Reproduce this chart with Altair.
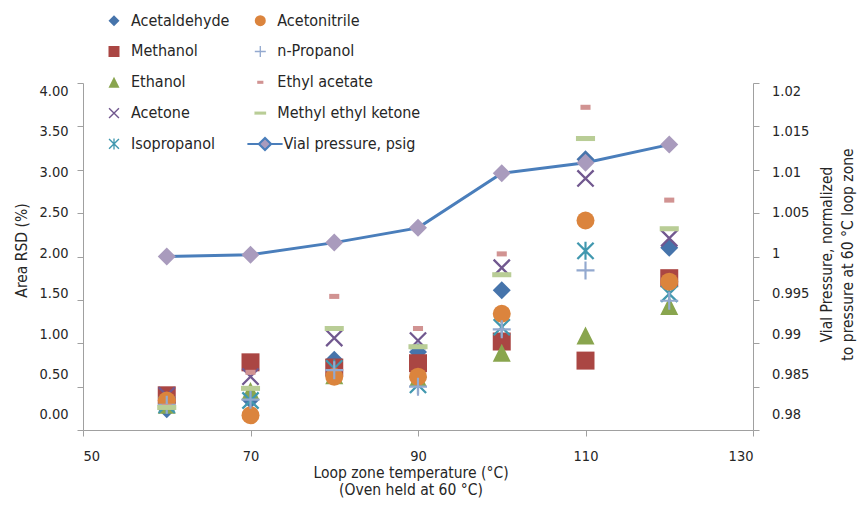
import altair as alt
import pandas as pd

# ---------------- data ----------------
temps = [60, 70, 80, 90, 100, 110, 120]

acetaldehyde = [0.24, 0.35, 0.81, 0.90, 1.61, 3.12, 2.10]
methanol = [0.40, 0.78, 0.72, 0.77, 1.02, 0.80, 1.75]
ethanol = [0.29, 0.45, 0.63, 0.60, 0.89, 1.09, 1.43]
acetone = [0.40, 0.615, 1.06, 1.03, 1.87, 2.90, 2.21]
isopropanol = [0.29, 0.34, 0.71, 0.52, 1.185, 2.065, 1.57]
acetonitrile = [0.34, 0.17, 0.615, 0.615, 1.34, 2.415, 1.71]
n_propanol = [0.29, 0.35, 0.69, 0.50, 1.16, 1.84, 1.49]
ethyl_acetate = [0.27, 0.665, 1.54, 1.17, 2.03, 3.72, 2.65]
methyl_ethyl_ketone = [0.26, 0.48, 1.17, 0.96, 1.79, 3.36, 2.32]

vial_pressure = [1.0000, 1.0002, 1.0016, 1.0033, 1.0096, 1.0108, 1.0129]

x_ticks = [50, 70, 90, 110, 130]
rsd_ticks = [0, 0.5, 1.0, 1.5, 2.0, 2.5, 3.0, 3.5, 4.0]
pressure_ticks = [0.98, 0.985, 0.99, 0.995, 1.0, 1.005, 1.01, 1.015, 1.02]

# drawing order of the series (later on top); also the legend order (column-major)
series_names = ["Acetaldehyde", "Methanol", "Ethanol", "Acetone", "Isopropanol",
                "Acetonitrile", "n-Propanol", "Ethyl acetate", "Methyl ethyl ketone"]
series_values = [acetaldehyde, methanol, ethanol, acetone, isopropanol,
                 acetonitrile, n_propanol, ethyl_acetate, methyl_ethyl_ketone]

# ---------------- styles ----------------
TRI = "M0,-1L1,1L-1,1Z"
PLUS = "M-1,-0.12H1V0.12H-1Z M-0.12,-1H0.12V1H-0.12Z"
XS = ("M-0.99,-0.81L0.81,0.99L0.99,0.81L-0.81,-0.99Z "
      "M-0.99,0.81L-0.81,0.99L0.99,-0.81L0.81,-0.99Z")
ASTER = XS + " M-0.12,-1L-0.12,1L0.12,1L0.12,-1Z"
EA_DASH = "M-0.56,-0.28H0.56V0.28H-0.56Z"
MEK_DASH = "M-1.06,-0.28H1.06V0.28H-1.06Z"
VIAL = "M-3.2,0H-1.1M1.1,0H3.2M0,-1.1L1.1,0L0,1.1L-1.1,0Z"

style = {
    "Acetaldehyde": ("#4674ab", "diamond"),
    "Acetonitrile": ("#db843d", "circle"),
    "Methanol": ("#aa4643", "square"),
    "n-Propanol": ("#93a9cf", PLUS),
    "Ethanol": ("#89a54e", TRI),
    "Ethyl acetate": ("#d19392", EA_DASH),
    "Acetone": ("#71588f", XS),
    "Methyl ethyl ketone": ("#b9cd96", MEK_DASH),
    "Isopropanol": ("#4198af", ASTER),
}
colors = [style[s][0] for s in series_names]
shapes = [style[s][1] for s in series_names]

F = "DejaVu Sans Condensed, Liberation Sans Narrow, DejaVu Sans, sans-serif"
TXT = "#262626"
AX = "#a0a0a0"

rows = []
for name, vals in zip(series_names, series_values):
    for t, v in zip(temps, vals):
        rows.append({"temp": t, "rsd": v, "series": name})
df = pd.DataFrame(rows)

pdf = pd.DataFrame({"temp": temps, "p": vial_pressure,
                    "name": ["Vial pressure, psig"] * len(temps)})
lab_left = pd.DataFrame({"v": rsd_ticks})
lab_right = pd.DataFrame({"pv": pressure_ticks})

x_axis = alt.Axis(values=x_ticks, format="d", tickSize=6, tickColor=AX,
                  domainColor=AX, grid=False, labelPadding=13, labelFont=F,
                  labelFontSize=14.5, labelColor=TXT,
                  title=["Loop zone temperature (°C)", "(Oven held at 60 °C)"],
                  titleFont=F, titleFontSize=15.5, titleFontWeight="normal",
                  titleColor=TXT, titleX=327.5, titleY=47, titleAlign="center",
                  titleBaseline="alphabetic", titleLineHeight=17)
X = alt.X("temp:Q", scale=alt.Scale(domain=[50, 130], nice=False, zero=False),
          axis=x_axis)

leg = dict(orient="none", legendX=23, legendY=-70.3, columns=2,
           title=None, symbolSize=121, symbolStrokeWidth=0, labelFont=F,
           labelFontSize=16, labelColor=TXT, labelOffset=9, rowPadding=14.8,
           columnPadding=22.3, padding=0, labelLimit=400)

# helper layers carrying the axis labels
left_labels = alt.Chart(lab_left).mark_point(opacity=0).encode(
    y=alt.Y("v:Q", scale=alt.Scale(domain=[-0.1856, 4.104], nice=False, zero=False),
            axis=alt.Axis(orient="left", values=rsd_ticks, format=".2f",
                          ticks=False, domain=False, grid=False, labelPadding=15,
                          labelFont=F, labelFontSize=14.5, labelColor=TXT,
                          title="Area RSD (%)", titleFont=F, titleFontSize=15.5,
                          titleFontWeight="normal", titleColor=TXT,
                          titleX=-61.5, titleY=167, titleAngle=270,
                          titleAlign="center", titleBaseline="middle"))
)

right_labels = alt.Chart(lab_right).mark_point(opacity=0).encode(
    y=alt.Y("pv:Q", scale=alt.Scale(domain=[0.978144, 1.02104], nice=False, zero=False),
            axis=alt.Axis(orient="right", values=pressure_ticks, format="~g",
                          ticks=False, domain=False, grid=False, labelPadding=18.5,
                          labelFont=F, labelFontSize=14.5, labelColor=TXT,
                          title=["Vial Pressure, normalized",
                                 "to pressure at 60 °C loop zone"],
                          titleFont=F, titleFontSize=15.5, titleFontWeight="normal",
                          titleColor=TXT, titleX=73.5, titleY=171, titleAngle=270,
                          titleAlign="center", titleBaseline="middle",
                          titleLineHeight=21))
)

scatter = alt.Chart(df).mark_point(filled=True, opacity=1, size=324,
                                   strokeWidth=0).encode(
    x=X,
    y=alt.Y("rsd:Q", scale=alt.Scale(domain=[0, 4], nice=False, zero=False),
            axis=alt.Axis(orient="left", values=rsd_ticks, labels=False,
                          title=None, tickSize=6, tickColor=AX, domainColor=AX,
                          grid=False)),
    color=alt.Color("series:N", scale=alt.Scale(domain=series_names, range=colors),
                    legend=alt.Legend(**leg)),
    shape=alt.Shape("series:N", scale=alt.Scale(domain=series_names, range=shapes),
                    legend=alt.Legend(**leg)),
)

press_y = alt.Y("p:Q", scale=alt.Scale(domain=[0.98, 1.02], nice=False, zero=False),
                axis=alt.Axis(orient="right", values=pressure_ticks, labels=False,
                              title=None, tickSize=6, tickColor=AX, domainColor=AX,
                              grid=False))

line = alt.Chart(pdf).mark_line(strokeWidth=3).encode(
    x=X, y=press_y,
    stroke=alt.Stroke("name:N",
                      scale=alt.Scale(domain=["Vial pressure, psig"], range=["#4a7ebb"]),
                      legend=alt.Legend(orient="none", legendX=174, legendY=53,
                                        title=None, symbolType=VIAL, symbolSize=121,
                                        symbolFillColor="#a99bbd",
                                        symbolStrokeWidth=2.2, labelFont=F,
                                        labelFontSize=16, labelColor=TXT,
                                        labelOffset=10.5, padding=0, labelLimit=400)),
)
diamonds = alt.Chart(pdf).mark_point(filled=True, opacity=1, shape="diamond",
                                     size=324, color="#a99bbd", strokeWidth=0).encode(
    x=X, y=press_y)

pressure = alt.layer(line, diamonds)

chart = alt.layer(left_labels, right_labels, scatter, pressure).resolve_scale(
    y="independent"
).properties(
    width=670, height=347,
    autosize=alt.AutoSizeParams(type="none"),
    padding={"left": 75, "top": 75, "right": 104, "bottom": 70},
).configure_view(strokeWidth=0)

chart.save("out.html", embed_options={"renderer": "svg", "actions": False})
